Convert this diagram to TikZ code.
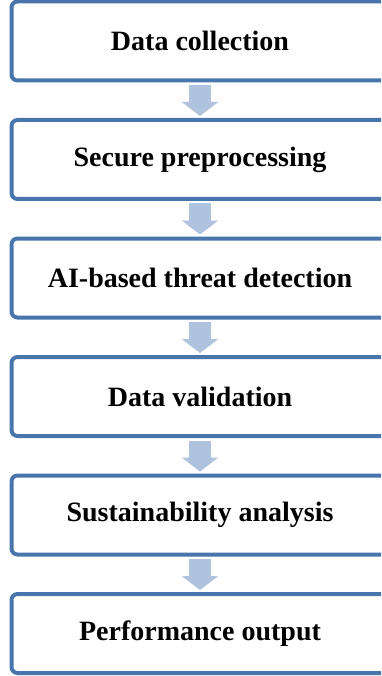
\documentclass[tikz,border=0pt]{standalone}
\usepackage{fontspec}
\setmainfont{Liberation Serif}
\usepackage{xcolor}
\usepackage{tikz}
\usetikzlibrary{arrows.meta}
\usetikzlibrary{positioning}
\definecolor{boxblue}{RGB}{72,118,172}
\definecolor{arrowblue}{RGB}{176,195,222}
\tikzset{
    stepnode/.style = {rectangle, rounded corners=6pt, draw=boxblue, line width=4pt, fill=white, align=center, font=\bfseries\fontsize{28}{32}\selectfont, minimum width=377pt, minimum height=79pt, inner sep=0pt},
    flowarrow/.style = {draw=arrowblue, line width=22pt, -{Triangle[width=36pt,length=14pt,fill=arrowblue]}, shorten <=2.5pt, shorten >=2pt},
}
\begin{document}
\begin{tikzpicture}[x=1pt,y=-1pt]
\useasboundingbox (0,0) rectangle (381,676);
\clip (0,0) rectangle (381,676);
\node[stepnode] at (200,41.0) (collect) {Data collection};
\node[stepnode] at (200,159.5) (preproc) {Secure preprocessing};
\node[stepnode] at (200,278.0) (detect) {AI-based threat detection};
\node[stepnode] at (200,396.5) (valid) {Data validation};
\node[stepnode] at (200,515.0) (sustain) {Sustainability analysis};
\node[stepnode] at (200,633.5) (output) {Performance output};
%
\draw[flowarrow] (collect) edge (preproc);
\draw[flowarrow] (preproc) edge (detect);
\draw[flowarrow] (detect) edge (valid);
\draw[flowarrow] (valid) edge (sustain);
\draw[flowarrow] (sustain) edge (output);
\end{tikzpicture}
\end{document}
